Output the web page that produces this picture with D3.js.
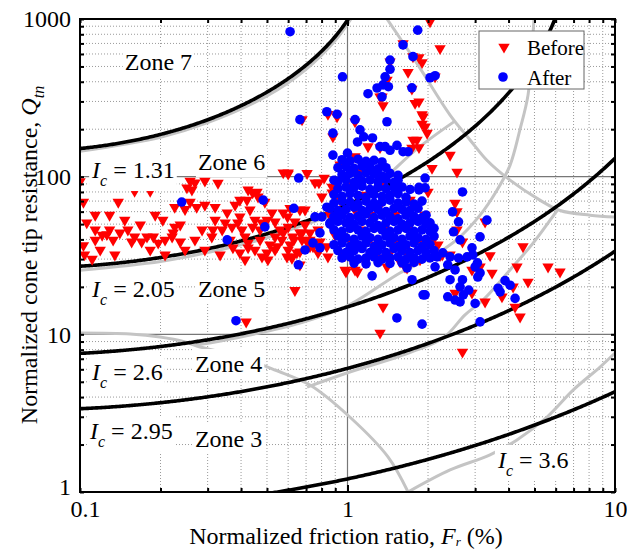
<!DOCTYPE html>
<html>
<head>
<meta charset="utf-8">
<script src="https://cdn.jsdelivr.net/npm/d3@7"></script>
<style>
  body { margin: 0; background: #fff; }
  svg text { font-family: "Liberation Serif", "Times New Roman", serif; fill: #000; }
</style>
</head>
<body>
<svg id="chart" width="627" height="549"></svg>
<script>
// ---- data: normalized friction ratio Fr (%) and normalized tip resistance Qtn ----
const before = [
  [0.103,69],[0.114,57],[0.106,51],[0.114,46],[0.126,43],[0.104,32],[0.111,30],[0.139,69],
  [0.141,44],[0.151,46],[0.160,41.5],[0.170,38.6],[0.178,41.5],[0.188,41.5],[0.196,38],[0.208,39.7],[0.221,41.5],[0.226,48],
  [0.204,53],[0.226,64],[0.247,62],[0.258,69],[0.262,82.5],[0.269,91.5],[0.293,66],[0.320,64],[0.286,46],[0.311,41.5],
  [0.340,46],[0.349,51],[0.370,48],[0.389,51],[0.403,46],[0.414,41.5],[0.380,66],[0.421,71],[0.425,82.5],[0.459,80],
  [0.463,74.5],[0.491,69],[0.451,53],[0.479,51],[0.522,59],[0.536,51.7],[0.425,38],[0.451,34.3],[0.479,31],[0.504,29.7],
  [0.536,34.3],[0.568,39.7],[0.600,48],[0.636,51.7],[0.694,61.6],[0.600,106],[0.756,91.5],[0.802,74.5],[0.620,31],[0.636,19],
  [0.536,41.5],[0.600,34.3],[0.676,39.7],[0.711,38],[0.776,32.9],[0.845,31],[0.979,25.6],[1.04,29.7],
  [0.121,42.6],[0.103,36.6],[0.129,46],[0.133,39.7],[0.156,38.6],[0.223,44],[0.237,38.6],[0.251,85],[0.273,64],
  [0.314,46],[0.355,59],[0.396,55.6],[0.442,48],[0.471,46],[0.442,79],[0.396,71],[0.500,53],[0.575,59],[0.610,63],
  [0.373,35.4],[0.396,32.9],[0.425,35.4],[0.500,32.9],[0.545,36],[0.594,31],[0.630,39.7],[0.664,44],[0.724,44],
  [0.664,33.4],[0.724,36],[0.664,61.6],[0.575,106],[0.676,230],[0.706,105],[0.1,93],
  [0.119,34.3],[0.135,31.9],[0.147,53],[0.168,49.5],[0.183,34.3],[0.208,31.9],[0.237,49.5],[0.269,39.7],[0.293,34.3],
  [0.334,31.9],[0.364,39.7],[0.432,61.6],[0.471,39.7],[0.559,46],[0.610,37],[0.694,49.5],[0.776,46],[0.664,27.6],
  [0.513,37],[0.320,53],[0.247,34.3],[0.191,57],[0.129,57],[0.114,39.7],[0.414,29.7],
  [0.160,81],[0.183,81],[0.258,93.8],[0.293,93.8],[0.328,91],
  [0.600,104],[0.782,91.5],[0.818,98],[0.876,86],[0.876,79],[0.597,55.6],[0.575,44],[0.624,41.5],[0.676,44],
  [0.724,39.7],[0.789,38.6],[0.743,36],[0.647,32.9],[0.620,30.4],[0.837,36],[0.987,24.9],[1.067,25.6],[1.323,30.6],
  [1.405,26.8],[1.670,26.4],[1.442,32.9],[1.531,38],[1.358,91.5],[1.290,110],[1.067,134],[1.193,155],[1.323,153],
  [1.819,171],[1.741,152],[1.917,240],[1.900,216],[1.789,292],[0.845,249],[0.914,240],[1.067,223],[0.882,179],
  [1.323,321],[1.358,283],
  [0.938,119],[1.114,110],[1.323,101],[1.506,82.5],[1.713,71],[1.950,57],[2.07,46],[2.18,37],[2.218,31.6],[1.867,29.7],
  [1.572,28.8],[1.163,28.8],[0.979,31.7],[0.898,42.6],[0.860,57],[0.938,71],[1.022,88.5],[1.163,76.5],[1.323,66],
  [1.506,57],[1.713,49.5],[1.867,39.7],[1.641,34.3],[1.268,37],[1.114,46],[1.067,61.6],[1.382,46],[1.214,57],[1.442,39.7],[1.022,39.7],
  [2.035,962],[2.218,650],[1.613,700],[1.757,577],[1.850,570],[1.900,530],[1.684,460],[1.741,360],[1.850,299],
  [1.900,248],[1.950,207],[1.985,189],[1.757,171],[1.850,153],[2.418,137],[2.070,113],[2.567,107],[2.524,68],
  [2.000,80],[1.442,536],[1.405,410],[1.346,321],[2.125,430],
  [2.567,60],[2.567,46],[2.69,38.6],[3.268,51.7],[3.412,31.6],[4.53,36],[4.30,26.8],[5.62,26.8],[6.23,24.9],
  [4.73,21.5],[4.16,20],[3.47,24.5],[2.92,25.6],[3.13,26.8],[2.524,18.3],[2.92,18.3],[3.268,16.06],[3.78,17.3],
  [4.231,14.9],[4.417,12.9],[2.418,31.9],[2.26,31.9],[2.09,39.7],[1.95,34.3],[1.713,32.9],[1.641,26.8],[1.09,24.9],
  [1.358,14.9],[1.323,10.2],[2.69,7.73],[0.418,12.0]
];

const afterScatter = [
  [0.610,831],[1.83,850],[1.613,685],[1.757,577],[1.442,549],[1.442,480],[1.382,430],[1.358,382],[1.290,365],
  [1.422,372],[1.346,321],[1.193,336],[1.741,366],[2.035,424],[2.125,437],[0.958,430],[1.405,223],[1.067,230],
  [1.114,198],[1.15,179],[1.24,176],[1.323,155],[1.382,155],[1.442,147],[1.531,158],[1.613,144],[1.684,144],
  [1.00,141],[1.09,166],[1.950,98],[1.850,82.5],[1.950,85],[2.69,80],[0.837,258],[0.914,249],[0.882,189],[0.882,137],
  [0.664,230],[0.657,98],
  [0.240,69],[0.355,39.7],[0.484,71],[0.491,48],[0.630,63],[0.655,27.6],[0.694,34.3],[0.743,38],[0.789,35.4],
  [0.756,55.6],[0.837,64],[0.802,55.6],[0.860,51],[0.789,44],
  [0.383,12.2],[1.236,23.5],[1.53,12.7],[1.90,11.6],[1.95,17.8],
  [1.85,85.5],[2.47,59.8],[2.60,51.7],[2.49,44.7],[3.13,41.5],[2.635,39.7],[2.92,35.4],[2.94,31.9],[2.80,31],
  [2.60,30.5],[2.418,31],[2.27,32.9],[2.16,31],[2.125,26.8],[2.37,27.6],[2.524,25.6],[3.0,26.8],[3.06,28.4],
  [3.13,24.5],[3.07,23.1],[2.418,22.2],[2.69,22.2],[2.635,20],[2.84,19.1],[2.71,17.8],[2.524,16.5],[2.635,16.06],
  [3.0,15.7],[2.37,17.3],[3.882,21.9],[4.053,20.5],[3.655,19.6],[3.719,18.6],[4.231,16.9],[3.32,53],[1.917,17.8],
  [1.743,22.2],[1.67,26.4],[3.131,12.0]
];

const afterCluster = [
  [0.954,128],[1.022,126],[1.095,129],[1.173,125],[1.257,127],[1.346,124],
  [0.921,114],[0.987,116],[1.058,113],[1.133,117],[1.214,115],[1.301,112],[1.393,114],
  [0.954,103],[1.022,105],[1.095,102],[1.173,106],[1.257,104],[1.346,101],[1.442,105],[1.545,102],
  [0.890,95],[0.921,93],[0.987,96],[1.058,92],[1.133,94],[1.214,95],[1.301,93],[1.393,96],[1.493,92],[1.545,95],
  [0.921,84],[0.987,86],[1.058,85],[1.133,87],[1.214,83],[1.301,86],[1.393,84],[1.493,85],[1.599,86],[1.713,83],
  [0.890,77],[0.954,75],[1.022,78],[1.095,76],[1.173,74],[1.257,77],[1.346,75],[1.442,76],[1.545,78],[1.655,74],
  [0.890,68],[0.954,70],[1.022,69],[1.095,67],[1.173,70],[1.257,68],[1.346,69],[1.442,71],[1.545,68],[1.655,69],[1.773,67],[1.899,70],
  [0.860,63],[0.921,61],[0.987,62],[1.058,64],[1.133,61],[1.214,63],[1.301,62],[1.393,60],[1.493,63],[1.599,62],[1.713,61],[1.835,63],
  [0.890,56],[0.954,57],[1.022,55],[1.095,56],[1.173,58],[1.257,55],[1.346,57],[1.442,56],[1.545,54],[1.655,57],[1.773,56],[1.899,55],[1.966,57],
  [0.860,50],[0.921,52],[0.987,51],[1.058,50],[1.133,52],[1.214,51],[1.301,49],[1.393,51],[1.493,52],[1.599,50],[1.713,51],[1.835,52],[1.966,50],[2.035,51],
  [0.890,46],[0.954,45],[1.022,47],[1.095,46],[1.173,45],[1.257,47],[1.346,46],[1.442,45],[1.545,46],[1.655,47],[1.773,45],[1.899,46],[2.035,45],[2.106,47],
  [0.921,42],[0.987,41],[1.058,40],[1.133,42],[1.214,41],[1.301,40],[1.393,42],[1.493,41],[1.599,40],[1.713,42],[1.835,41],[1.966,40],[2.106,42],
  [0.890,37],[0.954,38],[1.022,36],[1.095,37],[1.173,38],[1.257,36],[1.346,37],[1.442,38],[1.545,36],[1.655,37],[1.773,38],[1.899,36],[2.035,37],
  [0.921,34],[0.987,33],[1.058,34],[1.133,35],[1.214,33],[1.301,34],[1.393,33],[1.493,35],[1.599,34],[1.713,33],[1.835,34],[1.966,33],[2.106,34],
  [0.954,30.5],[1.022,31],[1.095,30],[1.173,30.5],[1.257,31],[1.346,30],[1.442,30.5],[1.545,31],[1.655,30],[1.773,30.5],[1.899,30],[2.035,30.5],
  [1.058,28.3],[1.173,28],[1.301,28.5],[1.442,28.2],[1.599,28.4],[1.773,28.6]
];

// soil behaviour type index contours
const icLevels = [1.31, 2.05, 2.6, 2.95, 3.6];

// zone boundaries of the classification chart, [Fr, Qtn]
const boundaryZone67 = [[0.1,145],[0.2,178],[0.3,220],[0.5,325],[0.7,480],[0.9,730],[1.03,1000]];
const boundaryZone56 = [[0.1,25.5],[0.2,29],[0.3,33],[0.5,41],[0.7,50],[0.9,58],[1.1,72],[1.38,98],[1.8,148],[2.52,225]];
const boundaryNC = [[1.405,1000],[1.835,510],[2.418,246],[2.872,171],[3.32,127],[4.05,95],[5.24,71],[6.23,61],[8.07,57],[10,55.5]];
const boundaryZone45 = [[0.269,8.55],[0.320,8.94],[0.432,9.9],[0.664,11.8],[0.996,15.1],[1.57,24.5],[2.03,30.5],[2.57,40],[3.13,57],[3.62,82],[4.05,118],[4.41,198],[4.73,329],[4.89,635],[4.98,1000]];
const boundaryZone34 = [[0.706,4.63],[1.02,5.77],[1.57,7.29],[2.275,9.47],[2.75,13.3],[3.21,16.5],[4.05,25.6],[4.94,37.9],[5.71,52.8],[6.07,61]];
const boundaryZone1 = [[0.1,10.19],[0.154,10.04],[0.199,9.61],[0.247,8.94],[0.281,8.31],[0.364,7.5],[0.471,6.48],[0.536,5.94],[0.724,4.77],[1.02,2.99],[1.417,1.67],[1.684,1]];
const boundaryZone2 = [[1.684,1.0],[2.418,1.38],[3.41,1.72],[4.30,2.14],[5.57,2.99],[6.97,4.43],[8.79,6.2],[10,7.61]];

// axis ticks
const xLabelTicks = [0.1, 1, 10];
const yLabelTicks = [1, 10, 100, 1000];
const xMinor = [0.2,0.3,0.4,0.5,0.6,0.7,0.8,0.9,2,3,4,5,6,7,8,9];
const yMinor = [2,3,4,5,6,7,8,9,20,30,40,50,60,70,80,90,200,300,400,500,600,700,800,900];
const xMajorGrid = [1];
const yMajorGrid = [10, 100];

// annotations (anchored in data space)
const zoneLabels = [
  {text: "Zone 7", F: 0.147, Q: 474},
  {text: "Zone 6", F: 0.276, Q: 110},
  {text: "Zone 5", F: 0.276, Q: 17.3},
  {text: "Zone 4", F: 0.269, Q: 5.77},
  {text: "Zone 3", F: 0.269, Q: 1.93}
];
const icLabels = [
  {value: "1.31", F: 0.111, Q: 98},
  {value: "2.05", F: 0.111, Q: 17.3},
  {value: "2.6",  F: 0.111, Q: 5.1},
  {value: "2.95", F: 0.109, Q: 2.17},
  {value: "3.6",  F: 3.65,  Q: 1.42}
];

// ---- layout ----
const plot = {left: 80, right: 615, top: 19, bottom: 492};
const svg = d3.select("#chart");
const x = d3.scaleLog().domain([0.1, 10]).range([plot.left, plot.right]);
const y = d3.scaleLog().domain([1, 1000]).range([plot.bottom, plot.top]);

svg.append("defs").append("clipPath").attr("id", "plotClip")
  .append("rect")
  .attr("x", plot.left).attr("y", plot.top)
  .attr("width", plot.right - plot.left).attr("height", plot.bottom - plot.top);

// gridlines
const grid = svg.append("g");
grid.selectAll(".gx").data(xMinor).join("line")
  .attr("x1", d => x(d)).attr("x2", d => x(d))
  .attr("y1", plot.top).attr("y2", plot.bottom)
  .attr("stroke", "#9a9a9a").attr("stroke-width", 1).attr("stroke-dasharray", "1,2");
grid.selectAll(".gy").data(yMinor).join("line")
  .attr("y1", d => y(d)).attr("y2", d => y(d))
  .attr("x1", plot.left).attr("x2", plot.right)
  .attr("stroke", "#9a9a9a").attr("stroke-width", 1).attr("stroke-dasharray", "1,2");
grid.selectAll(".mx").data(xMajorGrid).join("line")
  .attr("x1", d => x(d)).attr("x2", d => x(d))
  .attr("y1", plot.top).attr("y2", plot.bottom)
  .attr("stroke", "#777").attr("stroke-width", 1.2);
grid.selectAll(".my").data(yMajorGrid).join("line")
  .attr("y1", d => y(d)).attr("y2", d => y(d))
  .attr("x1", plot.left).attr("x2", plot.right)
  .attr("stroke", "#777").attr("stroke-width", 1.2);

const body = svg.append("g").attr("clip-path", "url(#plotClip)");

// grey zone boundaries
const smooth = d3.line().x(d => x(d[0])).y(d => y(d[1])).curve(d3.curveCatmullRom.alpha(0.5));
const boundaries = [boundaryZone67, boundaryZone56, boundaryNC, boundaryZone45, boundaryZone34, boundaryZone1, boundaryZone2];
body.selectAll(".zb").data(boundaries).join("path")
  .attr("d", smooth).attr("fill", "none")
  .attr("stroke", "#c4c4c4").attr("stroke-width", 3);

// Ic contours: Ic = sqrt((3.47 - log Qtn)^2 + (log Fr + 1.22)^2)
function icContour(ic) {
  const pts = [];
  for (let i = 0; i <= 400; i++) {
    const lf = -1 + i * 0.005;
    const d = ic * ic - (lf + 1.22) * (lf + 1.22);
    if (d < 0) continue;
    const lq = 3.47 - Math.sqrt(d);
    if (lq < -0.3 || lq > 3.3) continue;
    pts.push([Math.pow(10, lf), Math.pow(10, lq)]);
  }
  return pts;
}
const straight = d3.line().x(d => x(d[0])).y(d => y(d[1]));
body.selectAll(".ic").data(icLevels.map(icContour)).join("path")
  .attr("d", straight).attr("fill", "none")
  .attr("stroke", "#000").attr("stroke-width", 3.6);

// markers
const tri = d3.symbol().type(d3.symbolTriangle).size(56);
body.selectAll(".before").data(before).join("path")
  .attr("d", tri)
  .attr("transform", d => `translate(${x(d[0])},${y(d[1])}) rotate(180)`)
  .attr("fill", "#ff0000");
body.selectAll(".after").data(afterScatter.concat(afterCluster)).join("circle")
  .attr("cx", d => x(d[0])).attr("cy", d => y(d[1])).attr("r", 4.8)
  .attr("fill", "#0000ff");

// labels with white backing
const labelLayer = svg.append("g");
function backed(textSel, pad) {
  const b = textSel.node().getBBox();
  d3.select(textSel.node().parentNode).insert("rect", "text")
    .attr("x", b.x - pad).attr("y", b.y - pad)
    .attr("width", b.width + 2 * pad).attr("height", b.height + 2 * pad)
    .attr("fill", "#fff");
}
zoneLabels.forEach(l => {
  const g = labelLayer.append("g");
  const t = g.append("text").attr("x", x(l.F)).attr("y", y(l.Q))
    .attr("font-size", 24).text(l.text);
  backed(t, 2);
});
icLabels.forEach(l => {
  const g = labelLayer.append("g");
  const t = g.append("text").attr("x", x(l.F)).attr("y", y(l.Q)).attr("font-size", 24);
  t.append("tspan").attr("font-style", "italic").text("I");
  t.append("tspan").attr("font-style", "italic").attr("font-size", 16).attr("dy", 8).text("c");
  t.append("tspan").attr("dy", -8).text(" = " + l.value);
  backed(t, 2);
});

// frame
svg.append("rect")
  .attr("x", plot.left).attr("y", plot.top)
  .attr("width", plot.right - plot.left).attr("height", plot.bottom - plot.top)
  .attr("fill", "none").attr("stroke", "#000").attr("stroke-width", 2);

// axes: inward ticks on all four sides
const fmt = d => (d < 1 ? d3.format(".1f")(d) : d3.format("d")(d));
const allX = xLabelTicks.concat(xMinor);
const allY = yLabelTicks.concat(yMinor);
const xBottom = svg.append("g").attr("transform", `translate(0,${plot.bottom})`)
  .call(d3.axisBottom(x).tickValues(allX).tickSize(-4).tickPadding(8)
    .tickFormat(d => xLabelTicks.includes(d) ? fmt(d) : ""));
const xTop = svg.append("g").attr("transform", `translate(0,${plot.top})`)
  .call(d3.axisTop(x).tickValues(allX).tickSize(-4).tickFormat(""));
const yLeft = svg.append("g").attr("transform", `translate(${plot.left},0)`)
  .call(d3.axisLeft(y).tickValues(allY).tickSize(-4).tickPadding(9)
    .tickFormat(d => yLabelTicks.includes(d) ? fmt(d) : ""));
const yRight = svg.append("g").attr("transform", `translate(${plot.right},0)`)
  .call(d3.axisRight(y).tickValues(allY).tickSize(-4).tickFormat(""));
[xBottom, xTop, yLeft, yRight].forEach(a => {
  a.select(".domain").remove();
  a.selectAll(".tick line").attr("stroke", "#000").attr("stroke-width", 2);
  a.selectAll(".tick text").attr("font-size", 24)
    .attr("font-family", "'Liberation Serif', 'Times New Roman', serif").attr("fill", "#000");
});
yLeft.selectAll(".tick text").filter(d => d === 1).attr("dy", "0.1em");
xBottom.selectAll(".tick text").filter(d => d === 0.1).attr("dx", 5);
xBottom.selectAll(".tick line").filter(d => d === 1).attr("y2", -7);
xTop.selectAll(".tick line").filter(d => d === 1).attr("y2", 7);

// axis titles
const xt = svg.append("text").attr("x", 346).attr("y", 544)
  .attr("text-anchor", "middle").attr("font-size", 24);
xt.append("tspan").text("Normalized friction ratio, ");
xt.append("tspan").attr("font-style", "italic").text("F");
xt.append("tspan").attr("font-style", "italic").attr("font-size", 13).attr("dy", 2).text("r");
xt.append("tspan").attr("dy", -2).text(" (%)");

const yt = svg.append("text").attr("transform", "translate(37,255) rotate(-90)")
  .attr("text-anchor", "middle").attr("font-size", 24);
yt.append("tspan").text("Normalized cone tip resistance, ");
yt.append("tspan").attr("font-style", "italic").text("Q");
yt.append("tspan").attr("font-style", "italic").attr("font-size", 16).attr("dy", 7).text("tn");

// legend
const lg = svg.append("g");
lg.append("rect").attr("x", 479).attr("y", 31).attr("width", 105).attr("height", 58)
  .attr("fill", "#fff").attr("stroke", "#666").attr("stroke-width", 1);
lg.append("path").attr("d", tri).attr("transform", "translate(504,47) rotate(180)").attr("fill", "#ff0000");
lg.append("circle").attr("cx", 503).attr("cy", 77).attr("r", 4.8).attr("fill", "#0000ff");
lg.append("text").attr("x", 527).attr("y", 55).attr("font-size", 21).text("Before");
lg.append("text").attr("x", 527).attr("y", 85).attr("font-size", 21).text("After");
</script>
</body>
</html>
